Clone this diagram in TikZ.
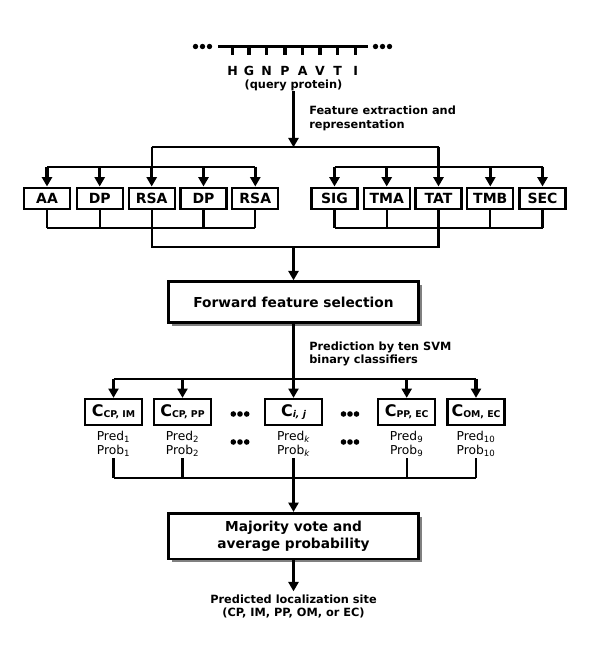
\documentclass[tikz,border=0pt]{standalone}
\usepackage{fontspec}
\setmainfont{DejaVu Sans}
\usetikzlibrary{arrows.meta,shadows}
\newcommand{\clsname}[1]{{\fontsize{12}{12}\selectfont\bfseries C}\raisebox{-0.6pt}{\fontsize{7}{7}\selectfont\bfseries #1}}
\begin{document}
\begin{tikzpicture}[x=0.75pt,y=-0.75pt,
  thinline/.style={line width=1.7pt},
  thickarrow/.style={line width=2.4pt,-{Triangle[length=7pt,width=7.5pt]}},
  featbox/.style={draw,line width=1.7pt,minimum width=34.5pt,minimum height=16pt,inner sep=0pt,font=\bfseries\fontsize{10.5}{12}\selectfont},
  mainbox/.style={draw,line width=2.1pt,fill=white,minimum width=187.5pt,inner sep=0pt,align=center,font=\bfseries\fontsize{10.3}{12.5}\selectfont,drop shadow={shadow xshift=2.4pt,shadow yshift=-2.4pt,fill=black!50,opacity=1}},
  clbox/.style={draw,line width=1.7pt,minimum width=42.75pt,minimum height=19.5pt,inner sep=0pt},
  lbl/.style={font=\bfseries\fontsize{8.5}{10}\selectfont,align=left,inner sep=0pt},
  reslbl/.style={font=\fontsize{9.2}{10.5}\selectfont,align=center,inner sep=1pt},
  seqdot/.style={circle,fill=black,inner sep=0pt,minimum size=4pt},
  aalbl/.style={font=\bfseries\fontsize{9.4}{11}\selectfont,inner sep=0pt}
]
\useasboundingbox (0,0) rectangle (600,671);
% query sequence
\coordinate (sL) at (218,46.7);
\coordinate (sR) at (368,46.7);
\draw[line width=2.3pt] (sL) -- (sR);
\foreach \x/\l [count=\i] in {232.7/H,249/G,266.7/N,285/P,302.7/A,320/V,337.7/T,355.7/I} {
  \coordinate (t\i) at (\x,46.7);
  \node[aalbl] (aa\i) at (\x,70.7) {\l};
  \draw[line width=2.3pt] (t\i) -- ++(0,8.5);
}
\foreach \x [count=\i] in {195.5,202.5,209.5,375.5,382.5,389.5}
  \node[seqdot] (sd\i) at (\x,46.5) {};
\node[lbl,align=center] (q) at (293.5,85) {(query protein)};
\coordinate (split) at (293.5,147.3);
\draw[thickarrow] (q.south) -- (split);
\node[lbl,anchor=west] (fe) at (309,118.3) {Feature extraction and\\representation};
% feature boxes
\foreach \x/\t [count=\i] in {47/AA,99.7/DP,151.7/RSA,203.5/DP,255.3/RSA}
  \node[featbox] (A\i) at (\x,198.3) {\t};
\foreach \x/\t [count=\i] in {334.5/SIG,386.7/TMA,438.5/TAT,490.3/TMB,542.5/SEC}
  \node[featbox] (B\i) at (\x,198.3) {\t};
\coordinate (barT) at (0,166.7);
\coordinate (barB) at (0,228.3);
\coordinate (mrg) at (293.5,246.7);
\draw[thinline] (A3.north |- split) -- (B3.north |- split);
\draw[thinline] (A3.north |- split) -- (A3.north |- barT);
\draw[thinline] (B3.north |- split) -- (B3.north |- barT);
\draw[thinline] (A1.north |- barT) -- (A5.north |- barT);
\draw[thinline] (B1.north |- barT) -- (B5.north |- barT);
\foreach \i in {1,...,5} {
  \draw[thickarrow] (A\i.north |- barT) -- (A\i.north);
  \draw[thickarrow] (B\i.north |- barT) -- (B\i.north);
  \draw[thinline] (A\i.south) -- (A\i.south |- barB);
  \draw[thinline] (B\i.south) -- (B\i.south |- barB);
}
\draw[thinline] (A1.south |- barB) -- (A5.south |- barB);
\draw[thinline] (B1.south |- barB) -- (B5.south |- barB);
\draw[thinline] (A3.south |- barB) -- (A3.south |- mrg) -- (B3.south |- mrg) -- (B3.south |- barB);
% forward feature selection
\node[mainbox,minimum height=30.75pt] (ffs) at (293.5,302.2) {Forward feature selection};
\draw[thickarrow] (mrg) -- (ffs.north);
\node[lbl,anchor=west] (pl) at (309,354) {Prediction by ten SVM\\binary classifiers};
% classifiers
\coordinate (cbar) at (293.5,379.3);
\coordinate (rbar) at (293.5,478.3);
\node[clbox] (C1) at (113.5,412) {\clsname{CP, IM}};
\node[clbox] (C2) at (182.5,412) {\clsname{CP, PP}};
\node[clbox] (C3) at (293.5,412) {\clsname{\itshape i, j}};
\node[clbox] (C4) at (406.7,412) {\clsname{PP, EC}};
\node[clbox] (C5) at (476,412) {\clsname{OM, EC}};
\node[reslbl] (R1) at (113.5,444) {Pred\textsubscript{1}\\Prob\textsubscript{1}};
\node[reslbl] (R2) at (182.5,444) {Pred\textsubscript{2}\\Prob\textsubscript{2}};
\node[reslbl] (R3) at (293.5,444) {Pred\textsubscript{\itshape k}\\Prob\textsubscript{\itshape k}};
\node[reslbl] (R4) at (406.7,444) {Pred\textsubscript{9}\\Prob\textsubscript{9}};
\node[reslbl] (R5) at (476,444) {Pred\textsubscript{10}\\Prob\textsubscript{10}};
\foreach \x [count=\i] in {233.3,240,246.7,343.5,350,356.5} {
  \node[seqdot,minimum size=4.2pt] (ca\i) at (\x,414) {};
  \node[seqdot,minimum size=4.2pt] (cb\i) at (\x,442) {};
}
\draw[thinline] (ffs.south) -- (cbar);
\draw[thinline] (C1.north |- cbar) -- (C5.north |- cbar);
\foreach \i in {1,...,5} {
  \draw[thickarrow] (C\i.north |- cbar) -- (C\i.north);
  \draw[thinline] (R\i.south) -- (R\i.south |- rbar);
}
\draw[thinline] (R1.south |- rbar) -- (R5.south |- rbar);
% majority vote
\node[mainbox,minimum height=34.3pt] (mv) at (293.5,536.2) {Majority vote and\\average probability};
\draw[thickarrow] (rbar) -- (mv.north);
\node[lbl,align=center,inner sep=2.5pt] (out) at (293.5,606.7) {Predicted localization site\\(CP, IM, PP, OM, or EC)};
\draw[thickarrow] (mv.south) -- (out.north);
\end{tikzpicture}
\end{document}
